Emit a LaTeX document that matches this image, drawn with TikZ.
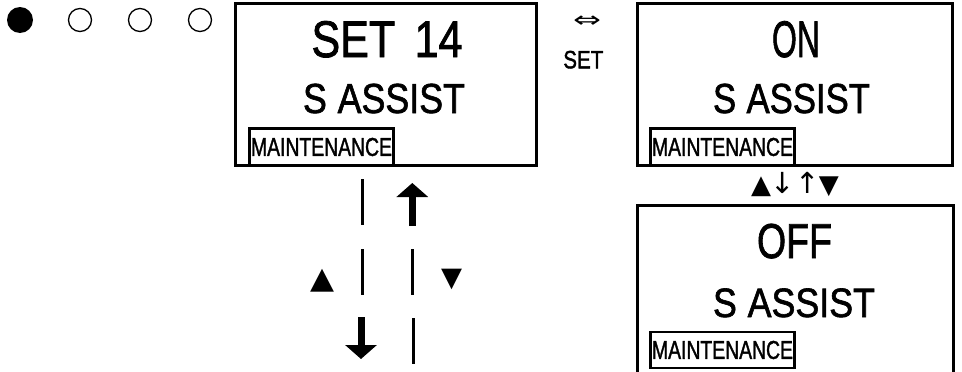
\documentclass[tikz,border=0pt]{standalone}
\usepackage{fontspec}
\setmainfont{Liberation Sans}
\newfontfamily\dispfont{Liberation Sans}[FakeBold=1.6]
\newfontfamily\symfont{DejaVu Sans}
\usepackage{graphicx}
\usetikzlibrary{arrows.meta}
\newcommand{\wtext}[3]{{\fontsize{#1}{#1}\selectfont\resizebox{#2}{\height}{#3}}}
\tikzset{
  screen/.style={draw, line width=3pt, inner sep=0pt, outer sep=0pt, anchor=north west},
  tag/.style={draw, line width=2.3pt, inner sep=0pt, outer sep=0pt, minimum width=144pt, minimum height=37pt, anchor=north west, font=\dispfont},
  lbl/.style={inner sep=0pt, outer sep=0pt, anchor=base, font=\dispfont},
  seg/.style={line width=3pt},
  bigarrow/.style={line width=7pt, -{Triangle[width=31pt,length=14pt]}},
  dot/.style={circle, inner sep=0pt, minimum size=26pt, fill=black},
  ring/.style={circle, draw, line width=1.3pt, inner sep=0pt, minimum size=23pt},
}
\begin{document}
\begin{tikzpicture}[x=1pt,y=-1pt]
\useasboundingbox (0,0) rectangle (962,372);
\clip (0,0) rectangle (962,372);
% indicator dots
\node[dot]  (d1) at (20,20) {};
\node[ring] (d2) at (80,20) {};
\node[ring] (d3) at (140,20) {};
\node[ring] (d4) at (200,20) {};
% screen SET 14
\node[screen, minimum width=301pt, minimum height=162.5pt] (s1) at (235.5,3) {};
\node[lbl] (s1a) at (387,57) {\wtext{51.5}{151pt}{SET\hspace{0.45em}14}};
\node[lbl] (s1b) at (384,113) {\wtext{42}{162pt}{S\hspace{0.3em}ASSIST}};
\node[tag, minimum height=37pt] (s1c) at (249.5,128.5) {\wtext{25.8}{141pt}{MAINTENANCE}};
% SET key
\node[inner sep=0pt] (k1) at (587,21.5) {\wtext{22}{28pt}{\symfont ⇔}};
\node[lbl] (k2) at (583.3,68.3) {\wtext{25}{40pt}{SET}};
% screen ON
\node[screen, minimum width=315.5pt, minimum height=162.5pt] (s2) at (637,3) {};
\node[lbl] (s2a) at (796,57) {\wtext{51.5}{48pt}{ON}};
\node[lbl] (s2b) at (791.5,113) {\wtext{42}{157pt}{S\hspace{0.3em}ASSIST}};
\node[tag] (s2c) at (650.5,128.5) {\wtext{25.8}{141pt}{MAINTENANCE}};
% up/down keys
\node[inner sep=0pt, anchor=base] (k3) at (795,193) {\symfont\fontsize{26}{26}\selectfont ▲\hspace{-1pt}\fontsize{29}{29}\selectfont↓\hspace{1pt}↑\hspace{-1pt}\fontsize{26}{26}\selectfont▼};
% screen OFF
\node[screen, minimum width=316pt, minimum height=180pt] (s3) at (637,205.8) {};
\node[lbl] (s3a) at (794.5,258) {\wtext{49}{75pt}{OFF}};
\node[lbl] (s3b) at (794,317) {\wtext{41}{162pt}{S\hspace{0.3em}ASSIST}};
\node[tag, minimum height=36pt] (s3c) at (650.5,332) {\wtext{25.8}{141pt}{MAINTENANCE}};
% navigation arrows
\coordinate (l1) at (362,179); \coordinate (l2) at (362,225);
\coordinate (l3) at (362,249); \coordinate (l4) at (362,295);
\coordinate (l5) at (361,317); \coordinate (l6) at (361,359);
\coordinate (r1) at (412.3,226); \coordinate (r2) at (412.3,183);
\coordinate (r3) at (412.5,249); \coordinate (r4) at (412.5,295);
\coordinate (r5) at (413,318); \coordinate (r6) at (413,364);
\draw[seg] (l1) -- (l2);
\draw[seg] (l3) -- (l4);
\draw[bigarrow] (l5) -- (l6);
\draw[bigarrow] (r1) -- (r2);
\draw[seg] (r3) -- (r4);
\draw[seg] (r5) -- (r6);
\node[inner sep=0pt] (t1) at (322,281) {\wtext{30}{24pt}{\symfont ▲}};
\node[inner sep=0pt] (t2) at (451.5,279) {\wtext{27}{21pt}{\symfont ▼}};
\end{tikzpicture}
\end{document}
